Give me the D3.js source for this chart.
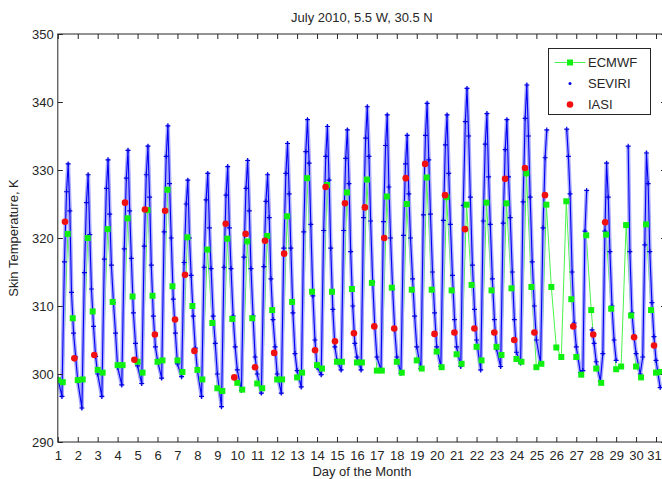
<!DOCTYPE html>
<html>
<head>
<meta charset="utf-8">
<script src="https://d3js.org/d3.v7.min.js"></script>
<style>
  body { margin: 0; background: #fff; }
  svg { display: block; font-family: "Liberation Sans", Arial, sans-serif; }
</style>
</head>
<body>
<div id="chart"></div>
<script>
// skin temperature, July 2010, 5.5 W 30.5 N
const days = d3.range(1, 32);
const yTicks = [290, 300, 310, 320, 330, 340, 350];

// SEVIRI at these hours of each day (null = no data)
const seviriHours = [0, 5, 8, 10.5, 12.5, 14.5, 16.5, 19, 21.5];
const seviri = [
  [299.4, 296.7, 316.5, 326.8, 330.9, 324.0, 312.0, 306.0, 302.5],
  [299.0, 295.0, 314.9, 325.2, 329.3, 320.5, 312.5, 307.0, 302.6],
  [300.0, 296.7, 316.9, 327.3, 331.5, 323.5, 316.0, 310.5, 306.0],
  [301.0, 298.4, 318.4, 328.8, 332.9, 324.0, 317.0, 309.0, 304.5],
  [301.2, 298.6, 318.8, 329.3, 333.5, 326.0, 316.0, 308.5, 304.0],
  [302.0, 299.4, 320.9, 332.0, 336.5, 328.0, 320.0, 311.0, 306.0],
  [301.5, 299.6, 316.4, 325.0, 328.5, 320.0, 314.5, 308.5, 303.8],
  [300.5, 296.7, 315.7, 325.6, 329.5, 321.5, 315.5, 308.5, 304.5],
  [300.0, 295.2, 315.7, 326.3, 330.5, 321.5, 315.5, 308.5, 304.0],
  [300.6, 297.6, 317.2, 327.3, 331.4, 324.0, 315.5, 308.5, 302.5],
  [300.0, 297.2, 315.8, 325.4, 329.3, 323.0, 314.0, 308.0, 304.0],
  [300.0, 297.2, 318.5, 329.5, 333.9, 326.5, 318.5, 309.0, 303.0],
  [300.5, 298.1, 320.9, 332.7, 337.4, 331.0, 322.0, 311.5, 305.0],
  [301.0, 299.9, 321.1, 332.0, 336.4, 328.5, 318.5, 309.5, 304.0],
  [302.0, 300.6, 321.1, 331.7, 335.9, 328.0, 318.0, 310.0, 304.5],
  [302.5, 300.6, 323.0, 334.7, 339.3, 332.0, 322.5, 313.5, 307.0],
  [302.5, 300.6, 322.4, 333.6, 338.1, 327.5, 320.0, 312.5, 306.5],
  [302.5, 300.1, 320.4, 330.9, 335.1, 326.5, 320.0, 314.0, 308.5],
  [304.0, 300.8, 323.4, 335.1, 339.8, 331.5, 323.5, 315.0, 309.0],
  [304.0, 301.1, 322.6, 333.7, 338.1, 329.5, 322.0, 314.5, 308.0],
  [304.0, 301.1, 324.8, 337.1, 342.0, 335.0, 326.0, 316.0, 309.5],
  [305.0, 300.6, 322.5, 333.8, 338.3, 329.0, 322.0, 314.0, 308.0],
  [303.7, 301.1, 322.2, 333.0, 337.4, 329.0, 323.0, 315.0, 308.0],
  [303.2, 301.6, 325.3, 337.6, 342.5, 335.0, 326.0, 316.5, 310.0],
  [305.0, 301.6, 321.5, 331.8, 335.9, null, null, null, null],
  [null, null, null, null, 336.0, 332.0, 326.5, 315.0, 307.5],
  [304.0, 300.2, 300.5, 321.0, 327.0, null, null, 306.5, 304.5],
  [301.8, 299.0, 303.0, 321.0, 331.0, 326.0, 318.0, 310.0, 305.0],
  [302.0, null, null, null, null, 333.5, 318.0, 309.0, 305.5],
  [303.0, 300.0, 302.5, 319.0, 332.5, 328.0, 318.0, 310.5, 305.5],
  [302.0, 298.0]
];

// ECMWF, 6-hourly
const ecmwfHours = [0, 6, 12, 18];
const ecmwf = [
  [299.1, 298.8, 320.6, 308.2],
  [299.1, 299.2, 320.0, 309.2],
  [300.6, 300.2, 321.3, 310.6],
  [301.3, 301.3, 322.9, 311.4],
  [301.8, 300.2, 324.1, 311.5],
  [301.8, 302.0, 327.1, 312.9],
  [302.0, 300.3, 320.1, 310.0],
  [300.6, 299.2, 318.3, 307.5],
  [297.9, 297.5, 319.9, 308.1],
  [298.7, 297.7, 319.5, 308.2],
  [298.6, 297.9, 320.3, 309.4],
  [299.2, 299.2, 323.2, 310.6],
  [299.5, 300.2, 328.8, 312.1],
  [301.3, 300.8, 327.8, 312.1],
  [301.8, 301.8, 326.7, 312.5],
  [301.7, 301.7, 328.6, 313.4],
  [300.5, 300.5, 326.1, 312.7],
  [301.8, 300.2, 325.0, 312.4],
  [302.0, 300.8, 328.9, 312.4],
  [303.3, 301.0, 326.0, 312.3],
  [302.9, 301.5, 324.9, 313.1],
  [304.0, 302.0, 325.2, 312.3],
  [304.0, 302.8, 325.1, 312.6],
  [302.2, 301.8, 329.5, 312.8],
  [301.0, 301.5, 324.9, 312.8],
  [303.9, 302.5, 325.4, 311.0],
  [302.5, 299.9, 320.4, 309.4],
  [300.8, 298.7, 320.5, 309.6],
  [300.7, 301.1, 321.9, 308.6],
  [301.1, 299.5, 322.0, 309.4],
  [300.2, 300.3]
];

// IASI overpasses (fractional day, K)
const iasiDay = [1.36, 1.83, 2.83, 4.37, 4.84, 5.37, 5.87, 6.38, 6.88, 7.38,
  7.85, 9.42, 9.85, 10.42, 10.89, 11.39, 11.85, 12.35, 13.9, 14.43,
  14.9, 15.4, 15.85, 16.4, 16.87, 17.37, 17.87, 18.45, 19.42, 19.89,
  20.42, 20.89, 21.42, 21.89, 22.89, 23.43, 23.89, 24.43, 24.9, 25.43,
  26.85, 27.85, 28.45, 29.9, 30.9];
const iasiTemp = [322.4, 302.3, 302.8, 325.2, 302.1, 324.2, 305.8, 324.0, 308.0, 314.6,
  303.4, 322.1, 299.5, 320.6, 301.0, 319.6, 303.1, 317.7, 303.5, 327.5,
  304.8, 325.1, 306.0, 324.5, 307.0, 320.0, 306.7, 328.8, 330.9, 305.9,
  326.3, 306.1, 321.3, 306.7, 306.1, 328.7, 305.0, 330.3, 306.1, 326.3,
  307.0, 305.8, 322.3, 305.4, 304.2];

const width = 662, height = 479;
const padL = 57.8, padR = 666, padT = 34, padB = 442;

const toSeries = (rows, hours) => {
  let out = [];
  rows.forEach((row, i) => {
    row.forEach((v, j) => out.push({ t: days[i] + hours[j] / 24, v: v }));
  });
  return out;
};
const seviriPts = toSeries(seviri, seviriHours);
const ecmwfPts = toSeries(ecmwf, ecmwfHours);
const iasiPts = iasiDay.map((t, i) => ({ t: t, v: iasiTemp[i] }));

const x = d3.scaleLinear().domain([1, 31.5]).range([padL, padR]);
const y = d3.scaleLinear().domain([290, 350]).range([padB, padT]);

const svg = d3.select("#chart").append("svg")
  .attr("width", width)
  .attr("height", height);

svg.append("clipPath").attr("id", "plotclip")
  .append("rect")
  .attr("x", padL).attr("y", padT)
  .attr("width", padR - padL).attr("height", padB - padT);

const plot = svg.append("g").attr("clip-path", "url(#plotclip)");

// ECMWF line under everything
const ecmwfLine = d3.line()
  .x(d => x(d.t)).y(d => y(d.v));
plot.append("path")
  .datum(ecmwfPts)
  .attr("fill", "none")
  .attr("stroke", "#4cf24c")
  .attr("stroke-width", 1)
  .attr("d", ecmwfLine);

// SEVIRI: pale halo + blue line + plus markers
const seviriLine = d3.line()
  .defined(d => d.v != null)
  .x(d => x(d.t)).y(d => y(d.v));
plot.append("path")
  .datum(seviriPts)
  .attr("fill", "none")
  .attr("stroke", "#aaaaff")
  .attr("stroke-width", 4)
  .attr("stroke-linejoin", "round")
  .attr("d", seviriLine);
plot.append("path")
  .datum(seviriPts)
  .attr("fill", "none")
  .attr("stroke", "#0000f0")
  .attr("stroke-width", 1.1)
  .attr("stroke-linejoin", "round")
  .attr("d", seviriLine);
plot.selectAll(".sev")
  .data(seviriPts.filter(d => d.v != null))
  .enter()
  .append("path")
  .attr("class", "sev")
  .attr("transform", d => `translate(${x(d.t)},${y(d.v)})`)
  .attr("d", "M-2.5,0H2.5M0,-2.5V2.5")
  .attr("stroke", "#0000e0")
  .attr("stroke-width", 1.2);

// ECMWF squares
plot.selectAll(".ec")
  .data(ecmwfPts)
  .enter()
  .append("rect")
  .attr("class", "ec")
  .attr("x", d => x(d.t) - 3)
  .attr("y", d => y(d.v) - 3)
  .attr("width", 6)
  .attr("height", 6)
  .attr("fill", "#10f010");

// IASI dots
plot.selectAll(".ia")
  .data(iasiPts)
  .enter()
  .append("circle")
  .attr("class", "ia")
  .attr("cx", d => x(d.t))
  .attr("cy", d => y(d.v))
  .attr("r", 3.3)
  .attr("fill", "#f01010");

// axes, ticks pointing inward on all four sides
const axisColor = "#262626";
const styleAxis = g => {
  g.select(".domain").remove();
  g.selectAll("line").attr("stroke", axisColor);
  g.selectAll("text").attr("fill", "#262626").attr("font-size", "13px");
};
const xAxisG = svg.append("g")
  .attr("transform", `translate(0,${padB})`)
  .call(d3.axisBottom(x).tickValues(days).tickFormat(d3.format("d")).tickSize(-5).tickPadding(9))
  .call(styleAxis);
// keep the last day label inside the picture
xAxisG.selectAll(".tick text").filter(d => d == 31).attr("dx", -2);
svg.append("g")
  .attr("transform", `translate(0,${padT})`)
  .call(d3.axisTop(x).tickValues(days).tickFormat("").tickSize(-5))
  .call(styleAxis);
svg.append("g")
  .attr("transform", `translate(${padL},0)`)
  .call(d3.axisLeft(y).tickValues(yTicks).tickSize(-5).tickPadding(4))
  .call(styleAxis);
svg.append("g")
  .attr("transform", `translate(${padR},0)`)
  .call(d3.axisRight(y).tickValues(yTicks).tickFormat("").tickSize(-5))
  .call(styleAxis);
svg.selectAll(".tick text").attr("font-family", "'Liberation Sans', Arial, sans-serif");

svg.append("rect")
  .attr("x", padL).attr("y", padT)
  .attr("width", padR - padL).attr("height", padB - padT)
  .attr("fill", "none")
  .attr("stroke", axisColor)
  .attr("stroke-width", 1);

// titles
svg.append("text")
  .attr("x", (padL + padR) / 2).attr("y", 22)
  .attr("text-anchor", "middle")
  .attr("font-size", "13px").attr("fill", "#262626")
  .text("July 2010, 5.5 W, 30.5 N");
svg.append("text")
  .attr("x", (padL + padR) / 2).attr("y", 476)
  .attr("text-anchor", "middle")
  .attr("font-size", "13px").attr("fill", "#262626")
  .text("Day of the Month");
svg.append("text")
  .attr("transform", `translate(18,${(padT + padB) / 2}) rotate(-90)`)
  .attr("text-anchor", "middle")
  .attr("font-size", "13px").attr("fill", "#262626")
  .text("Skin Temperature, K");

// legend
const legend = svg.append("g").attr("transform", "translate(548.5,48.5)");
legend.append("rect")
  .attr("width", 102).attr("height", 66)
  .attr("fill", "#fff").attr("stroke", axisColor);
const items = ["ECMWF", "SEVIRI", "IASI"];
items.forEach((name, i) => {
  const g = legend.append("g").attr("transform", `translate(0,${14 + i * 21})`);
  if (i == 0) {
    g.append("line").attr("x1", 6).attr("x2", 37)
      .attr("stroke", "#4cf24c").attr("stroke-width", 1);
    g.append("rect").attr("x", 18.5).attr("y", -3).attr("width", 6).attr("height", 6)
      .attr("fill", "#10f010");
  } else if (i == 1) {
    g.append("circle").attr("cx", 21.5).attr("r", 1.5).attr("fill", "#0000e0");
  } else {
    g.append("circle").attr("cx", 21.5).attr("r", 3.3).attr("fill", "#f01010");
  }
  g.append("text").attr("x", 39.5).attr("dy", "0.36em")
    .attr("font-size", "13px").attr("fill", "#262626")
    .text(name);
});
</script>
</body>
</html>
